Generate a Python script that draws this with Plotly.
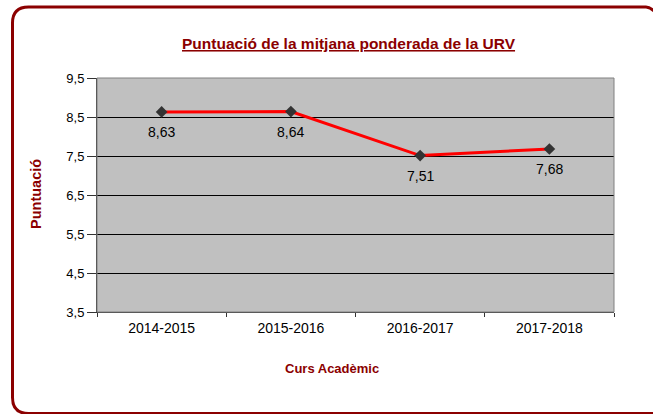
import plotly.graph_objects as go

categories = ["2014-2015", "2015-2016", "2016-2017", "2017-2018"]
values = [8.63, 8.64, 7.51, 7.68]
value_labels = ["8,63", "8,64", "7,51", "7,68"]
ytick_vals = [3.5, 4.5, 5.5, 6.5, 7.5, 8.5, 9.5]
ytick_text = ["3,5", "4,5", "5,5", "6,5", "7,5", "8,5", "9,5"]

W, H = 653, 414
L, R, T, B = 97, 614, 78, 312
pw, ph = R - L, B - T

def px(x):
    return (x - L) / pw

def py(y):
    return (B - y) / ph

DARK = "#8B0000"
FONT = "Liberation Sans, Arial, sans-serif"

fig = go.Figure()
fig.add_trace(go.Scatter(
    x=categories, y=values, mode="lines+markers",
    line=dict(color="#FF0000", width=3),
    marker=dict(symbol="diamond", size=9, color="#333333"),
    hoverinfo="skip", cliponaxis=False,
))

annotations = [
    dict(x=c, y=v, xref="x", yref="y", text=t, showarrow=False,
         yshift=-20, xanchor="center", yanchor="middle",
         font=dict(family=FONT, size=14, color="#000000"))
    for c, v, t in zip(categories, values, value_labels)
]

# rounded outer border
x0, x1, y0, y1, r = 12.5, 670, 7, 413.5, 16
path = (f"M {px(x0)},{py(y0 + r)} L {px(x0)},{py(y1 - r)} "
        f"Q {px(x0)},{py(y1)} {px(x0 + r)},{py(y1)} L {px(x1)},{py(y1)} "
        f"M {px(x0)},{py(y0 + r)} Q {px(x0)},{py(y0)} {px(x0 + r)},{py(y0)} L {px(x1 - 24)},{py(y0)} "
        f"Q {px(x1 - 20)},{py(y0)} {px(x1 - 16)},{py(y0 + 4)}")
fig.add_shape(type="path", path=path, xref="paper", yref="paper",
              line=dict(color=DARK, width=3), layer="below")

annotations += [
    dict(text="<u><b>Puntuació de la mitjana ponderada de la URV</b></u>",
         xref="paper", yref="paper", x=px(348.5), y=py(43),
         xanchor="center", yanchor="middle", showarrow=False,
         font=dict(family=FONT, size=15.5, color=DARK)),
    dict(text="<b>Puntuació</b>", xref="paper", yref="paper",
         x=px(36), y=py(194), xanchor="center", yanchor="middle",
         textangle=-90, showarrow=False,
         font=dict(family=FONT, size=14.5, color=DARK)),
    dict(text="<b>Curs Acadèmic</b>", xref="paper", yref="paper",
         x=px(331.5), y=py(368), xanchor="center", yanchor="middle",
         showarrow=False, font=dict(family=FONT, size=13, color=DARK)),
]

fig.update_layout(
    width=W, height=H,
    margin=dict(l=L, r=W - R, t=T, b=H - B, pad=0),
    paper_bgcolor="white", plot_bgcolor="#C0C0C0",
    showlegend=False,
    separators=",.",
    font=dict(family=FONT, size=12, color="#000000"),
    xaxis=dict(
        type="category", range=[-0.5, 3.5], showgrid=False,
        tickson="boundaries", ticks="outside", ticklen=4, tickcolor="#333333",
        ticklabelstandoff=3,
        showline=True, linecolor="#333333", linewidth=1, mirror=False,
        tickfont=dict(family=FONT, size=14, color="#000000"),
        zeroline=False,
    ),
    yaxis=dict(
        range=[3.5, 9.5], tickvals=ytick_vals, ticktext=ytick_text,
        ticks="outside", ticklen=9, tickcolor="#333333",
        showgrid=True, gridcolor="#000000", gridwidth=1,
        showline=True, linecolor="#333333", linewidth=1,
        tickfont=dict(family=FONT, size=13, color="#000000"),
        zeroline=False,
    ),
    annotations=annotations,
)
# gray frame of the plot area
fig.add_shape(type="rect", xref="paper", yref="paper", x0=0, x1=1, y0=0, y1=1,
              line=dict(color="#808080", width=1), layer="above")

fig.write_html("out.html", config={"displayModeBar": False},
               post_script="document.body.style.margin='0px';document.body.style.overflow='hidden';")
